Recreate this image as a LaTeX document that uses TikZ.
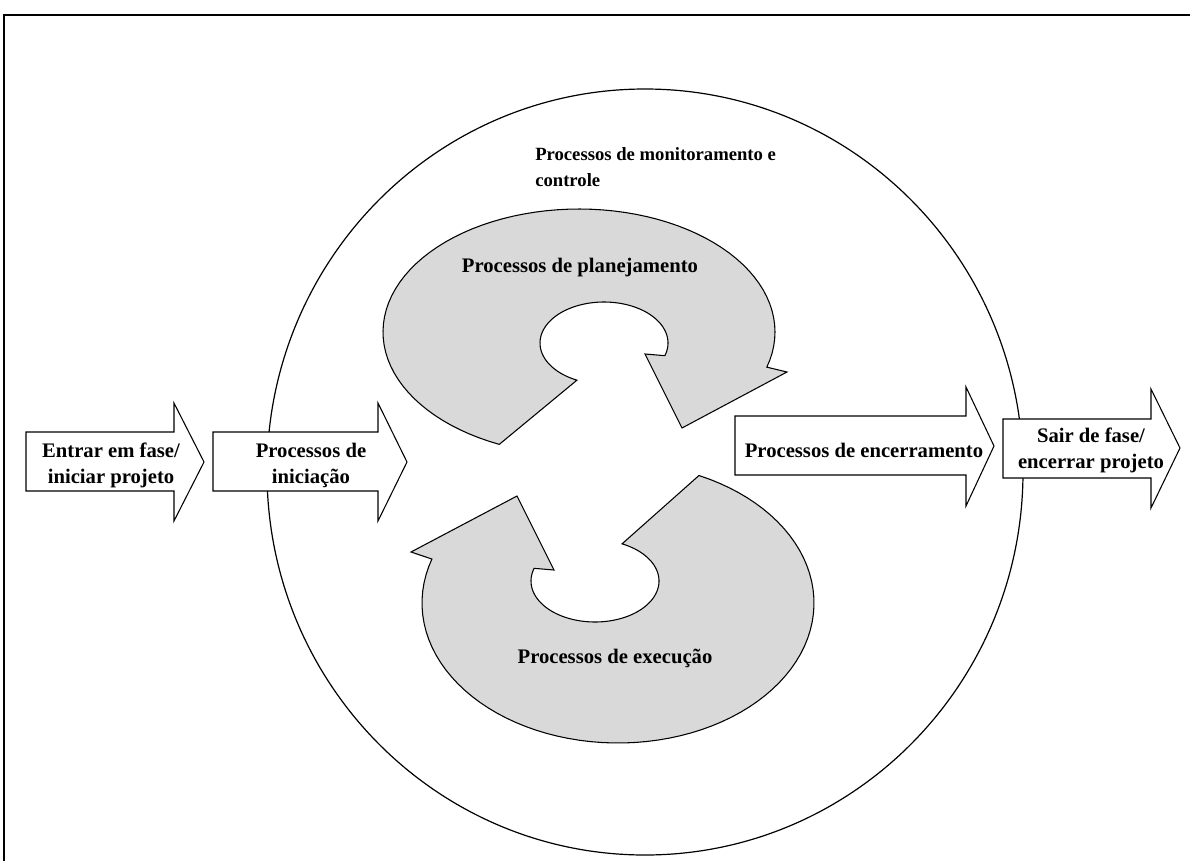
\documentclass[tikz,border=0pt]{standalone}
\usepackage{fontspec}
\setmainfont{Liberation Serif}
\definecolor{cyclegray}{RGB}{217,217,217}
\begin{document}
\begin{tikzpicture}[x=0.75pt,y=-0.75pt,
  line join=miter,
  label/.style={font=\fontsize{15.5}{19.5}\selectfont\bfseries, align=center, inner sep=0pt},
  blockarrow/.style={draw=black, fill=white, line width=0.8pt},
  cyclearrow/.style={draw=black, fill=cyclegray, line width=0.8pt},
  ring/.style={draw=black, line width=0.9pt}]
\useasboundingbox (0,0) rectangle (1190,861);

% page frame (runs off the right and bottom edges)
\draw[line width=1pt] (4,861) -- (4,15) -- (1190,15);

% monitoring and control circle
\draw[ring] (645,472) ellipse [x radius=283.5pt, y radius=287.25pt];

% planning cycle arrow (clockwise, head at lower right)
\path[cyclearrow]
  plot[domain=114:376.6, samples=80] ({579+196*cos(\x)},{332+123*sin(\x)})
  -- (787,372) -- (682,428) -- (645,354)
  -- plot[domain=18:-245, samples=80] ({604+64*cos(\x)},{343+41*sin(\x)})
  -- cycle;

% execution cycle arrow (clockwise, head at upper left)
\path[cyclearrow]
  plot[domain=-65.6:198.3, samples=80] ({618+196*cos(\x)},{603+140*sin(\x)})
  -- (411,552) -- (517,496) -- (554,570)
  -- plot[domain=198:-65, samples=80] ({595+64*cos(\x)},{581+41*sin(\x)})
  -- cycle;

% block arrows
\path[blockarrow] (26,432) -- (174,432) -- (174,403) -- (204,462) -- (174,521) -- (174,491) -- (26,491) -- cycle;
\path[blockarrow] (213,432) -- (378,432) -- (378,403) -- (407,462) -- (378,521) -- (378,491) -- (213,491) -- cycle;
\path[blockarrow] (735,416) -- (966,416) -- (966,387) -- (994,446) -- (966,506) -- (966,475) -- (735,475) -- cycle;
\path[blockarrow] (1003,419) -- (1151,419) -- (1151,389) -- (1180,448) -- (1151,508) -- (1151,478) -- (1003,478) -- cycle;

% labels
\node[label, font=\fontsize{14}{19.5}\selectfont\bfseries, align=left, anchor=west] (monit) at (535,167) {Processos de monitoramento e\\controle};
\node[label] (plan) at (580,268) {Processos de planejamento};
\node[label] (exec) at (615,658) {Processos de execução};
\node[label] (enter) at (111,465) {Entrar em fase/\\iniciar projeto};
\node[label] (init) at (311,465) {Processos de\\iniciação};
\node[label] (close) at (864,450) {Processos de encerramento};
\node[label] (leave) at (1091,450) {Sair de fase/\\encerrar projeto};
\end{tikzpicture}
\end{document}
